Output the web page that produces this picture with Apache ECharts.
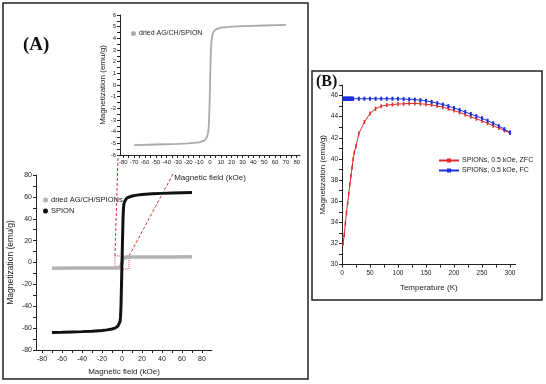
<!DOCTYPE html>
<html>
<head>
<meta charset="utf-8">
<script src="https://cdn.jsdelivr.net/npm/echarts@6/dist/echarts.min.js"></script>
<style>
  html, body { margin: 0; padding: 0; background: #fff; }
  #chart { width: 546px; height: 384px; }
</style>
</head>
<body>
<div id="chart"></div>
<script>
// panel A: hysteresis loops (field in kOe, magnetization in emu/g)
const fieldSpion = [-70, -60, -50, -40, -30, -20, -15, -10, -7, -5, -4, -3, -2, -1.5, -1, -0.5, 0, 0.5, 1, 1.5, 2, 3, 4, 5, 7, 10, 15, 20, 30, 40, 50, 60, 70]
const mSpion = [-64, -63.8, -63.5, -63.2, -62.8, -62.2, -61.6, -60.8, -60, -59, -58, -56.5, -54, -50, -40, -20, 0, 20, 40, 50, 54, 56.5, 58, 59, 60, 60.8, 61.6, 62.2, 62.8, 63.2, 63.5, 63.8, 64]
const fieldDried = [-70, -50, -30, -20, -10, -5, -3, -2, -1.5, -1, -0.5, 0, 0.5, 1, 1.5, 2, 3, 5, 10, 20, 30, 50, 70]
const mDried = [-5.15, -5.1, -5.05, -5.0, -4.92, -4.75, -4.5, -4.2, -3.9, -3.4, -2, 0, 2, 3.4, 3.9, 4.2, 4.5, 4.75, 4.92, 5.0, 5.05, 5.1, 5.15]

// panel B: ZFC / FC curves
const tempZfc = [2, 4, 6, 8, 10, 12, 14, 16, 18, 20, 22, 25, 30, 40, 50, 60, 70, 80, 90, 100, 110, 120, 130, 140, 150, 160, 170, 180, 190, 200, 210, 220, 230, 240, 250, 260, 270, 280, 290, 300]
const mZfc = [32.0, 32.8, 33.9, 34.9, 35.8, 36.7, 37.6, 38.4, 39.2, 40.0, 40.6, 41.2, 42.4, 43.5, 44.3, 44.75, 45.0, 45.1, 45.15, 45.2, 45.22, 45.25, 45.25, 45.22, 45.18, 45.12, 45.02, 44.9, 44.75, 44.58, 44.4, 44.2, 44.0, 43.8, 43.6, 43.38, 43.15, 42.92, 42.7, 42.45]
const tempFc = [2, 3, 4, 5, 6, 7, 8, 9, 10, 11, 12, 13, 14, 15, 16, 17, 18, 19, 20, 30, 40, 50, 60, 70, 80, 90, 100, 110, 120, 130, 140, 150, 160, 170, 180, 190, 200, 210, 220, 230, 240, 250, 260, 270, 280, 290, 300]
const mFc = [45.7, 45.7, 45.7, 45.7, 45.7, 45.7, 45.7, 45.7, 45.7, 45.7, 45.7, 45.7, 45.7, 45.7, 45.7, 45.7, 45.7, 45.7, 45.7, 45.7, 45.7, 45.7, 45.7, 45.7, 45.7, 45.7, 45.69, 45.67, 45.65, 45.62, 45.57, 45.5, 45.4, 45.28, 45.15, 45.0, 44.82, 44.64, 44.45, 44.25, 44.05, 43.85, 43.62, 43.38, 43.12, 42.82, 42.5]

const steps = (a, b, s) => { const out = []; for (let v = a; v <= b + 1e-9; v += s) out.push(+v.toFixed(3)); return out }
const pairs = (xs, ys) => xs.map((x, i) => [x, ys[i]])

const FONT = 'Liberation Sans'
const INK = '#222'

function axis(opts) {
  return {
    type: 'value',
    gridIndex: opts.grid,
    min: opts.min,
    max: opts.max,
    name: opts.name,
    nameLocation: 'middle',
    nameGap: opts.nameGap,
    nameTextStyle: { fontFamily: FONT, fontSize: opts.nameSize || 8, color: INK },
    splitLine: { show: false },
    axisLine: { show: true, onZero: false, lineStyle: { color: INK, width: 1 } },
    axisTick: { show: true, length: 3, customValues: opts.ticks, lineStyle: { color: INK } },
    axisLabel: { customValues: opts.labels, fontFamily: FONT, fontSize: opts.labelSize || 7, color: INK, margin: opts.margin || 4 }
  }
}

const chart = echarts.init(document.getElementById('chart'), null, { renderer: 'canvas' })

const option = {
  backgroundColor: '#fff',
  animation: false,
  grid: [
    { left: 36, top: 175, width: 176, height: 175 },
    { left: 120, top: 15, width: 180, height: 140 },
    { left: 342, top: 85, width: 173.6, height: 179.6 }
  ],
  xAxis: [
    axis({ grid: 0, min: -86, max: 90, name: 'Magnetic field (kOe)', nameGap: 18, ticks: steps(-80, 80, 10), labels: steps(-80, 80, 20), margin: 6 }),
    axis({ grid: 1, min: -83, max: 83, name: 'Magnetic field (kOe)', nameGap: 19, ticks: steps(-80, 80, 5), labels: steps(-80, 80, 10), labelSize: 6, margin: 4 }),
    axis({ grid: 2, min: 0, max: 310, name: 'Temperature (K)', nameGap: 19, ticks: steps(0, 300, 25), labels: steps(0, 300, 50), labelSize: 6.5, margin: 5 })
  ],
  yAxis: [
    axis({ grid: 0, min: -80, max: 80, name: 'Magnetization (emu/g)', nameGap: 21, ticks: steps(-80, 80, 10), labels: steps(-80, 80, 20), nameSize: 8.5 }),
    axis({ grid: 1, min: -6, max: 6, name: 'Magnetization (emu/g)', nameGap: 13, ticks: steps(-6, 6, 0.5), labels: steps(-6, 6, 1), labelSize: 6 }),
    axis({ grid: 2, min: 30, max: 47, name: 'Magnetization (emu/g)', nameGap: 15, ticks: steps(30, 47, 1), labels: steps(30, 46, 2), labelSize: 6.5 })
  ],
  legend: [
    {
      orient: 'vertical', left: 38, top: 191, itemGap: 3, itemWidth: 5, itemHeight: 5,
      icon: 'circle', data: ['dried AG/CH/SPIONs', 'SPION'],
      textStyle: { fontFamily: FONT, fontSize: 7.5, color: INK, padding: [0, 0, 0, -2] }
    },
    {
      left: 126, top: 25, itemWidth: 5, itemHeight: 5, icon: 'circle',
      data: ['dried AG/CH/SPION'],
      textStyle: { fontFamily: FONT, fontSize: 7, color: INK, padding: [0, 0, 0, -2] }
    },
    {
      orient: 'vertical', left: 433, top: 152, itemGap: 3, itemWidth: 20, itemHeight: 5,
      data: ['SPIONs, 0.5 kOe, ZFC', 'SPIONs, 0.5 kOe, FC'],
      textStyle: { fontFamily: FONT, fontSize: 7, color: INK, padding: [0, 0, 0, -2] }
    }
  ],
  series: [
    {
      name: 'dried AG/CH/SPIONs', type: 'line', xAxisIndex: 0, yAxisIndex: 0,
      data: pairs(fieldDried, mDried), showSymbol: false,
      itemStyle: { color: '#b3b3b3' }, lineStyle: { color: '#b3b3b3', width: 3.5 },
      markArea: {
        silent: true, label: { show: false },
        itemStyle: { color: 'rgba(0,0,0,0)', borderColor: '#d05050', borderType: 'dotted', borderWidth: 1 },
        data: [[{ coord: [-7, 6] }, { coord: [7, -6] }]]
      }
    },
    {
      name: 'SPION', type: 'line', xAxisIndex: 0, yAxisIndex: 0,
      data: pairs(fieldSpion, mSpion), showSymbol: false,
      itemStyle: { color: '#111' }, lineStyle: { color: '#111', width: 3 }
    },
    {
      name: 'dried AG/CH/SPION', type: 'line', xAxisIndex: 1, yAxisIndex: 1,
      data: pairs(fieldDried, mDried), showSymbol: false,
      itemStyle: { color: '#aaa' }, lineStyle: { color: '#aaa', width: 1.8 }
    },
    {
      name: 'SPIONs, 0.5 kOe, ZFC', type: 'line', xAxisIndex: 2, yAxisIndex: 2,
      data: pairs(tempZfc, mZfc), symbol: 'rect', symbolSize: [1.5, 4],
      itemStyle: { color: '#e02a2a' }, lineStyle: { color: '#e02a2a', width: 1 }
    },
    {
      name: 'SPIONs, 0.5 kOe, FC', type: 'line', xAxisIndex: 2, yAxisIndex: 2,
      data: pairs(tempFc, mFc), symbol: 'rect', symbolSize: [2, 4],
      itemStyle: { color: '#1f2fd8' }, lineStyle: { color: '#1f2fd8', width: 1 }
    }
  ]
}

chart.setOption(option)

// zoom-box connectors: from the box corners on the main plot up towards the inset
const boxTL = chart.convertToPixel({ gridIndex: 0 }, [-7, 6])
const boxTR = chart.convertToPixel({ gridIndex: 0 }, [7, 6])
const dash = { stroke: '#cc3333', lineWidth: 1, lineDash: [3, 2] }

chart.setOption({
  graphic: [
    { type: 'rect', shape: { x: 3, y: 3, width: 305, height: 376 }, style: { fill: 'none', stroke: INK, lineWidth: 1.5 } },
    { type: 'rect', shape: { x: 312, y: 71, width: 230, height: 229 }, style: { fill: 'none', stroke: INK, lineWidth: 1.5 } },
    { type: 'text', style: { x: 23, y: 45, text: '(A)', font: 'bold 19px "Liberation Serif"', fill: '#111', verticalAlign: 'middle' } },
    { type: 'text', style: { x: 316, y: 82, text: '(B)', font: 'bold 16px "Liberation Serif"', fill: '#111', verticalAlign: 'middle' } },
    { type: 'line', shape: { x1: boxTL[0], y1: boxTL[1], x2: 118, y2: 158 }, style: dash },
    { type: 'line', shape: { x1: boxTR[0], y1: boxTR[1], x2: 173, y2: 174 }, style: dash }
  ]
})
</script>
</body>
</html>
